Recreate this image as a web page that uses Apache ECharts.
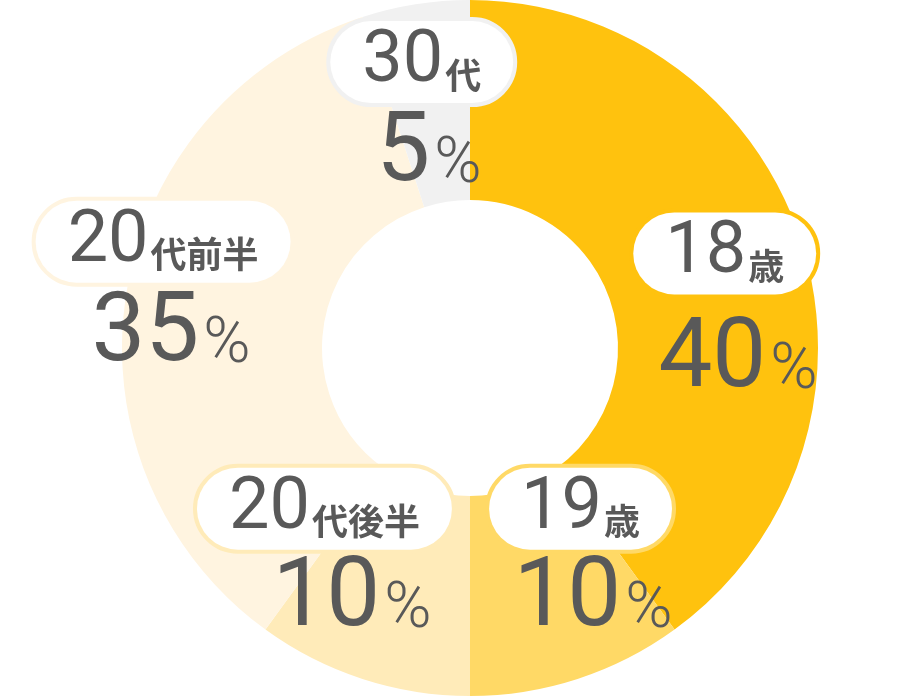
<!DOCTYPE html>
<html>
<head>
<meta charset="utf-8">
<script src="https://cdn.jsdelivr.net/npm/echarts@6/dist/echarts.min.js"></script>
<style>
html, body { margin: 0; padding: 0; background: #fff; }
#ageChart { width: 924px; height: 696px; }
</style>
</head>
<body>
<div id="ageChart"></div>
<script>
// 年齢層の割合
var ageNames = ['18', '19', '20', '20', '30'];
var ageUnits = ['歳', '歳', '代後半', '代前半', '代'];
var ageValues = [40, 10, 10, 35, 5];
var sliceColors = ['#FFC20E', '#FFD966', '#FFEBB9', '#FFF4E0', '#F1F1F1'];

// ラベル位置の微調整
var pillShift = [[16, -17], [33, -78], [-68, -78], [-59, -67], [-9, -38]];   // inside 位置から
var pctShift = [[268, 12], [123, 251], [-118, 251], [-299, -14], [-41, -194]]; // 中心から

(function(){
    var myChart = echarts.init(document.getElementById('ageChart'));
    var fontFam = '"Roboto", "Noto Sans CJK JP", sans-serif';
    var cjkFam = '"Noto Sans CJK JP", sans-serif';
    var textColor = '#595959';

    var pillData = [];
    var pctData = [];
    for (var i = 0; i < ageValues.length; i++) {
        pillData.push({
            name: ageNames[i] + ageUnits[i],
            value: ageValues[i],
            itemStyle: { color: sliceColors[i] },
            label: {
                formatter: '{n|' + ageNames[i] + '}{u|' + ageUnits[i] + '}',
                borderColor: sliceColors[i],
                offset: pillShift[i]
            }
        });
        pctData.push({
            name: ageNames[i] + ageUnits[i],
            value: ageValues[i],
            label: {
                formatter: '{n|' + ageValues[i] + '}{u|%}',
                offset: pctShift[i]
            }
        });
    }

    var option = {
        animation: false,
        series: [
            {
                type: 'pie',
                center: [470, 348],
                radius: [148, 348],
                startAngle: 90,
                silent: true,
                itemStyle: { borderWidth: 0 },
                labelLine: { show: false },
                labelLayout: { hideOverlap: false },
                label: {
                    show: true,
                    position: 'inside',
                    backgroundColor: '#fff',
                    borderWidth: 4,
                    borderRadius: 44,
                    padding: [4, 32, 4, 32],
                    rich: {
                        n: { fontFamily: fontFam, fontWeight: 400, fontSize: 72, color: textColor, lineHeight: 74, verticalAlign: 'bottom' },
                        u: { fontFamily: cjkFam, fontWeight: 'bold', fontSize: 36, color: textColor, lineHeight: 74, verticalAlign: 'bottom', padding: [0, 0, 6, 2] }
                    }
                },
                data: pillData
            },
            {
                type: 'pie',
                center: [470, 348],
                radius: [148, 348],
                startAngle: 90,
                silent: true,
                avoidLabelOverlap: false,
                itemStyle: { color: 'rgba(0,0,0,0)', borderWidth: 0 },
                labelLine: { show: false },
                labelLayout: { hideOverlap: false },
                label: {
                    show: true,
                    position: 'center',
                    rich: {
                        n: { fontFamily: fontFam, fontWeight: 400, fontSize: 96, color: textColor, lineHeight: 100, verticalAlign: 'bottom' },
                        u: { fontFamily: fontFam, fontWeight: 300, fontSize: 64, color: textColor, lineHeight: 100, verticalAlign: 'bottom', padding: [0, 0, 6, 4] }
                    }
                },
                data: pctData
            }
        ]
    };
    myChart.setOption(option);
})();
</script>
</body>
</html>
